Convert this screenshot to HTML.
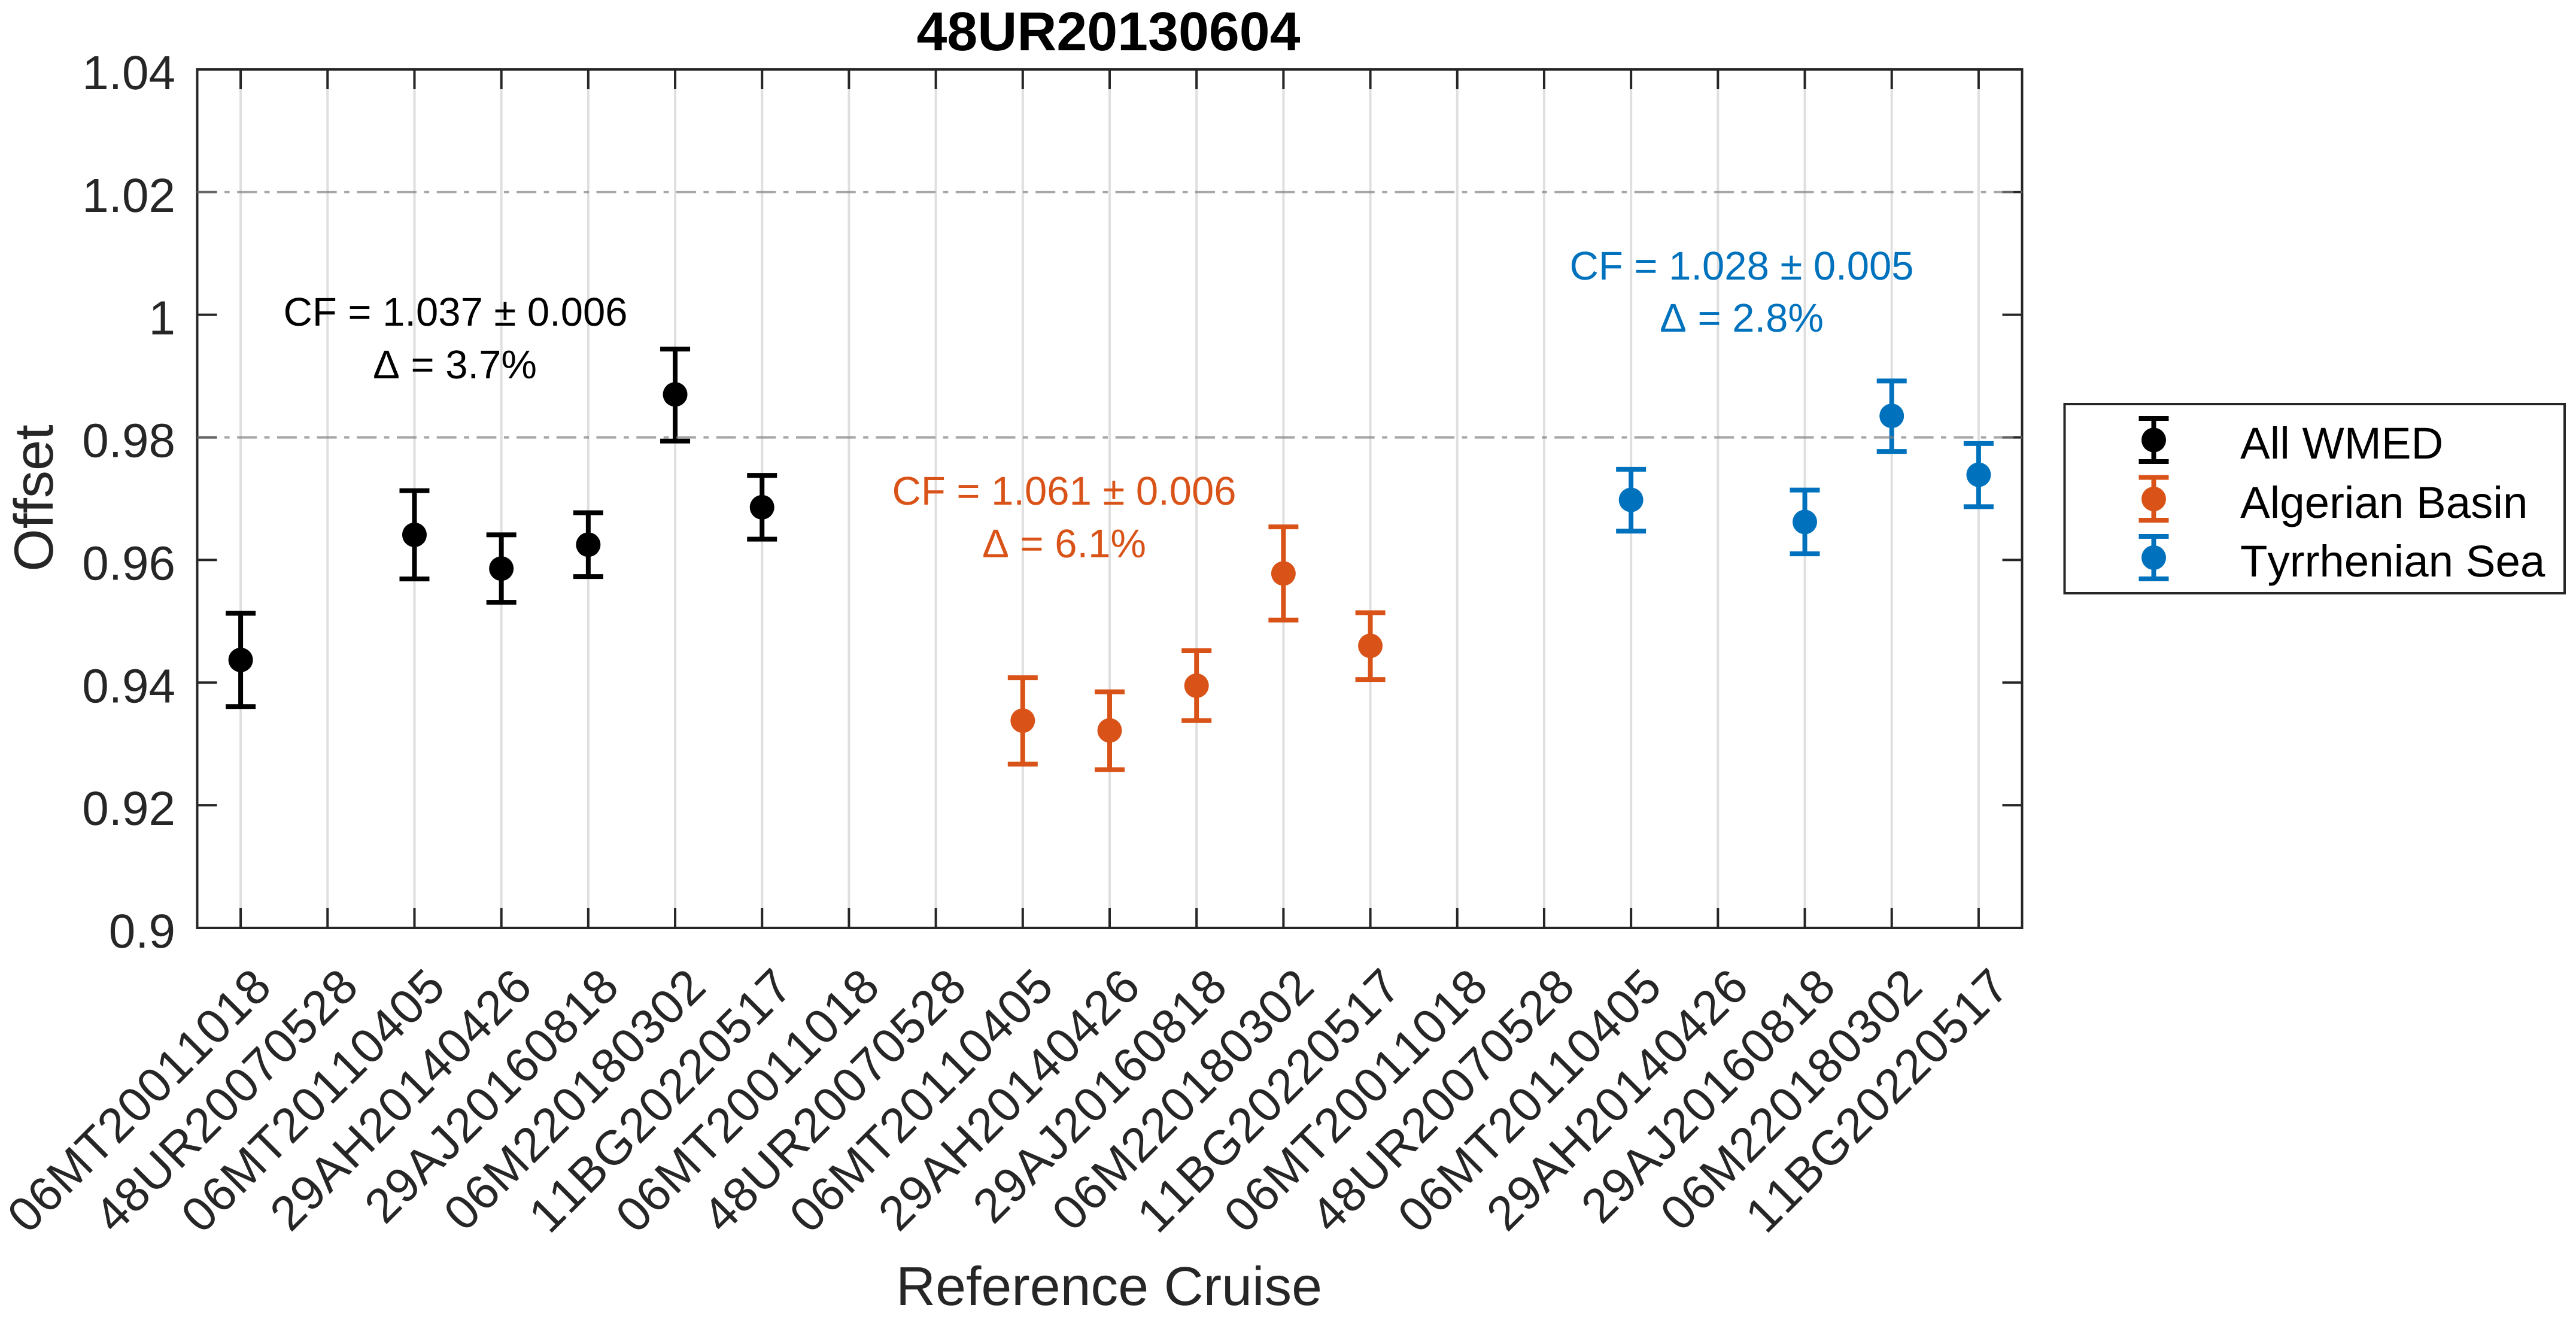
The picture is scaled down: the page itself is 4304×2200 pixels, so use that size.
<!DOCTYPE html>
<html lang="en">
<head>
<meta charset="utf-8">
<title>48UR20130604</title>
<style>
html,body{margin:0;padding:0;background:#fff;width:4304px;height:2200px;overflow:hidden}
svg{display:block}
text{font-family:"Liberation Sans",Arial,sans-serif;text-rendering:geometricPrecision;font-kerning:none}
</style>
</head>
<body>
<svg id="chart" xmlns="http://www.w3.org/2000/svg" width="4304" height="2200" viewBox="0 0 4304 2200">
  <rect x="0" y="0" width="4304" height="2200" fill="#ffffff"/>
  <g id="grid"></g>
  <g id="series"></g>
  <g id="axes"></g>
  <g id="refs"></g>

  <text x="1852" y="84" font-size="91.5" font-weight="bold" text-anchor="middle" fill="#000000">48UR20130604</text>
  <text x="1853" y="2180" font-size="91.5" text-anchor="middle" fill="#262626">Reference Cruise</text>
  <text transform="translate(88 832) rotate(-90)" font-size="92" text-anchor="middle" fill="#262626">Offset</text>

  <text x="761" y="544" font-size="67" text-anchor="middle" fill="#000000">CF = 1.037 ± 0.006</text>
  <text x="760" y="632" font-size="67" text-anchor="middle" fill="#000000">Δ = 3.7%</text>
  <text x="1778" y="843" font-size="67" text-anchor="middle" fill="#D95319">CF = 1.061 ± 0.006</text>
  <text x="1778" y="931" font-size="67" text-anchor="middle" fill="#D95319">Δ = 6.1%</text>
  <text x="2910" y="467" font-size="67" text-anchor="middle" fill="#0072BD">CF = 1.028 ± 0.005</text>
  <text x="2910" y="554" font-size="67" text-anchor="middle" fill="#0072BD">Δ = 2.8%</text>

  <g>
    <rect x="3449.5" y="675" width="835.5" height="316" fill="#ffffff" stroke="#262626" stroke-width="4"/>
    <g>
      <line x1="3598.5" x2="3598.5" y1="699" y2="771" stroke="#000000" stroke-width="8"/>
      <line x1="3573.5" x2="3623.5" y1="699" y2="699" stroke="#000000" stroke-width="8"/>
      <line x1="3573.5" x2="3623.5" y1="771" y2="771" stroke="#000000" stroke-width="8"/>
      <circle cx="3598.5" cy="735" r="20.5" fill="#000000"/>
      <text x="3743" y="766" font-size="74.5" fill="#000000">All WMED</text>
    </g>
    <g>
      <line x1="3598.5" x2="3598.5" y1="797.5" y2="869" stroke="#D95319" stroke-width="8"/>
      <line x1="3573.5" x2="3623.5" y1="797.5" y2="797.5" stroke="#D95319" stroke-width="8"/>
      <line x1="3573.5" x2="3623.5" y1="869" y2="869" stroke="#D95319" stroke-width="8"/>
      <circle cx="3598.5" cy="833.5" r="20.5" fill="#D95319"/>
      <text x="3743" y="865" font-size="74.5" fill="#000000">Algerian Basin</text>
    </g>
    <g>
      <line x1="3598.5" x2="3598.5" y1="896" y2="967" stroke="#0072BD" stroke-width="8"/>
      <line x1="3573.5" x2="3623.5" y1="896" y2="896" stroke="#0072BD" stroke-width="8"/>
      <line x1="3573.5" x2="3623.5" y1="967" y2="967" stroke="#0072BD" stroke-width="8"/>
      <circle cx="3598.5" cy="931.5" r="20.5" fill="#0072BD"/>
      <text x="3743" y="963" font-size="74.5" fill="#000000">Tyrrhenian Sea</text>
    </g>
  </g>
</svg>
<script>
const categories = [
  "06MT20011018","48UR20070528","06MT20110405","29AH20140426","29AJ20160818","06M220180302","11BG20220517",
  "06MT20011018","48UR20070528","06MT20110405","29AH20140426","29AJ20160818","06M220180302","11BG20220517",
  "06MT20011018","48UR20070528","06MT20110405","29AH20140426","29AJ20160818","06M220180302","11BG20220517"
];
const yTicks = [0.9,0.92,0.94,0.96,0.98,1,1.02,1.04];
const yTickLabels = ["0.9","0.92","0.94","0.96","0.98","1","1.02","1.04"];
const refValues = [0.98,1.02];

const allWmedCats = [1,3,4,5,6,7];
const allWmedValues = [0.9437,0.9641,0.9586,0.9625,0.9870,0.9686];
const allWmedLower = [0.9361,0.9569,0.9531,0.9573,0.9794,0.9634];
const allWmedUpper = [0.9513,0.9713,0.9641,0.9677,0.9944,0.9738];

const algerianCats = [10,11,12,13,14];
const algerianValues = [0.9338,0.9322,0.9395,0.9578,0.9460];
const algerianLower = [0.9267,0.9258,0.9338,0.9502,0.9405];
const algerianUpper = [0.9408,0.9385,0.9452,0.9654,0.9514];

const tyrrhenianCats = [17,19,20,21];
const tyrrhenianValues = [0.9698,0.9662,0.9835,0.9739];
const tyrrhenianLower = [0.9647,0.9610,0.9777,0.9687];
const tyrrhenianUpper = [0.9748,0.9714,0.9892,0.9790];

const NS = "http://www.w3.org/2000/svg";
const plot = {left:329.5, right:3378.5, top:116, bottom:1550};
const yMin = 0.9, yMax = 1.04;
const xStep = (plot.right - plot.left) / categories.length;
function xScale(c){ return plot.left + (c - 0.5) * xStep; }
function yScale(v){ return plot.bottom - (v - yMin) / (yMax - yMin) * (plot.bottom - plot.top); }

function lineEl(parent, x1, y1, x2, y2, color, w){
  const el = document.createElementNS(NS, "line");
  el.setAttribute("x1", x1);
  el.setAttribute("y1", y1);
  el.setAttribute("x2", x2);
  el.setAttribute("y2", y2);
  el.setAttribute("stroke", color);
  el.setAttribute("stroke-width", w);
  parent.appendChild(el);
  return el;
}

const AXIS = "#262626", TICK = 33, AW = 4;
const gridG = document.getElementById("grid");
const axesG = document.getElementById("axes");
const refsG = document.getElementById("refs");
const seriesG = document.getElementById("series");

categories.forEach(function(label, i){
  const x = xScale(i + 1);
  const g = lineEl(gridG, x, plot.top, x, plot.bottom, "#dfdfdf", 4);
  
  
  const t1 = lineEl(axesG, x, plot.bottom, x, plot.bottom - TICK, AXIS, AW);
  
  
  const t2 = lineEl(axesG, x, plot.top, x, plot.top + TICK, AXIS, AW);
  
  
  const tx = document.createElementNS(NS, "text");
  tx.setAttribute("transform", "translate(" + (x + 56) + " 1652) rotate(-45)");
  tx.setAttribute("font-size", "81");
  tx.setAttribute("letter-spacing", "1.2");
  tx.setAttribute("text-anchor", "end");
  tx.setAttribute("fill", AXIS);
  
  
  tx.textContent = label;
  axesG.appendChild(tx);
});

yTicks.forEach(function(v, i){
  const y = yScale(v);
  const t1 = lineEl(axesG, plot.left, y, plot.left + TICK, y, AXIS, AW);
  
  
  const t2 = lineEl(axesG, plot.right, y, plot.right - TICK, y, AXIS, AW);
  
  
  const tx = document.createElementNS(NS, "text");
  tx.setAttribute("x", 293);
  tx.setAttribute("y", y + 33);
  tx.setAttribute("font-size", "80");
  tx.setAttribute("text-anchor", "end");
  tx.setAttribute("fill", AXIS);
  
  
  tx.textContent = yTickLabels[i];
  axesG.appendChild(tx);
});

const frame = document.createElementNS(NS, "rect");
frame.setAttribute("x", plot.left);
frame.setAttribute("y", plot.top);
frame.setAttribute("width", plot.right - plot.left);
frame.setAttribute("height", plot.bottom - plot.top);
frame.setAttribute("fill", "none");
frame.setAttribute("stroke", AXIS);
frame.setAttribute("stroke-width", AW);


axesG.appendChild(frame);

refValues.forEach(function(v){
  const y = yScale(v);
  const r = lineEl(refsG, plot.left, y, plot.right, y, "#808080", 4);
  r.setAttribute("stroke-dasharray", "33 12.5 8.7 12.5");
  r.setAttribute("stroke-opacity", "0.7");
  
  
});

function drawSeries(name, color, cats, values, lower, upper){
  const group = document.createElementNS(NS, "g");
  
  
  seriesG.appendChild(group);
  cats.forEach(function(c, i){
    const x = xScale(c);
    const pt = document.createElementNS(NS, "g");
    
    
    group.appendChild(pt);
    lineEl(pt, x, yScale(lower[i]), x, yScale(upper[i]), color, 8);
    lineEl(pt, x - 25, yScale(lower[i]), x + 25, yScale(lower[i]), color, 8);
    lineEl(pt, x - 25, yScale(upper[i]), x + 25, yScale(upper[i]), color, 8);
    const m = document.createElementNS(NS, "circle");
    m.setAttribute("cx", x);
    m.setAttribute("cy", yScale(values[i]));
    m.setAttribute("r", 20.5);
    m.setAttribute("fill", color);
    pt.appendChild(m);
  });
}
drawSeries("series-all-wmed", "#000000", allWmedCats, allWmedValues, allWmedLower, allWmedUpper);
drawSeries("series-algerian-basin", "#D95319", algerianCats, algerianValues, algerianLower, algerianUpper);
drawSeries("series-tyrrhenian-sea", "#0072BD", tyrrhenianCats, tyrrhenianValues, tyrrhenianLower, tyrrhenianUpper);
</script>
</body>
</html>
